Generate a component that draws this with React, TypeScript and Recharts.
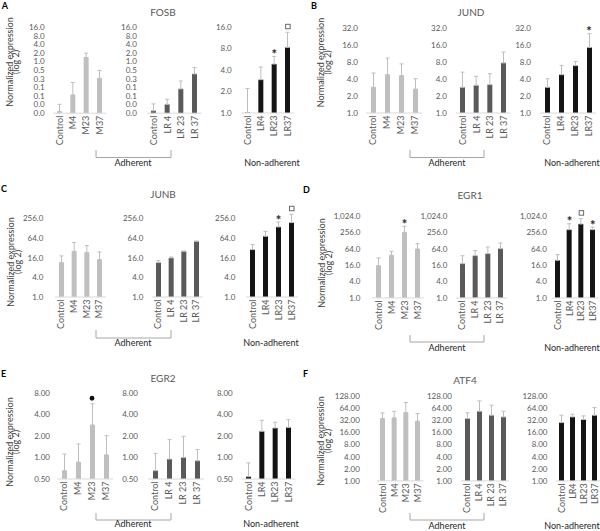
import React from 'react';
import { ComposedChart, Bar, Line, XAxis, YAxis, ErrorBar } from 'recharts';

// ---------- categories ----------
const CAT_ADH_M = ['Control', 'M4', 'M23', 'M37'];
const CAT_ADH_LR = ['Control', 'LR 4', 'LR 23', 'LR 37'];
const CAT_NON = ['Control', 'LR4', 'LR23', 'LR37'];

// ---------- FOSB ----------
const FOSB_M = [0.018, 0.068, 1.39, 0.26];
const FOSB_M_ERR = [0.014, 0.118, 0.58, 0.23];
const FOSB_LR = [0.019, 0.032, 0.111, 0.37];
const FOSB_LR_ERR = [0.014, 0.016, 0.099, 0.25];
const FOSB_NON = [1.02, 2.93, 4.85, 8.3];
const FOSB_NON_ERR = [1.18, 1.47, 1.35, 5.2];
const FOSB_NON_MARKS = ['', '', '*', '□'];
const FOSB_ADH_TICKS = [1 / 64, 1 / 32, 1 / 16, 1 / 8, 1 / 4, 1 / 2, 1, 2, 4, 8, 16];
const FOSB_ADH_TICK_LABELS = ['0.0', '0.0', '0.1', '0.1', '0.3', '0.5', '1.0', '2.0', '4.0', '8.0', '16.0'];
const FOSB_NON_TICKS = [1, 2, 4, 8, 16];
const FOSB_NON_TICK_LABELS = ['1.0', '2.0', '4.0', '8.0', '16.0'];

// ---------- JUND ----------
const JUND_M = [2.85, 4.77, 4.6, 2.66];
const JUND_M_ERR = [2.25, 4.63, 2.8, 1.39];
const JUND_LR = [2.85, 3.1, 3.18, 7.7];
const JUND_LR_ERR = [2.45, 1.36, 1.79, 4.3];
const JUND_NON = [2.85, 4.77, 6.9, 14.5];
const JUND_NON_ERR = [1.2, 2.2, 1.3, 10.9];
const JUND_NON_MARKS = ['', '', '', '*'];
const JUND_TICKS = [1, 2, 4, 8, 16, 32];
const JUND_TICK_LABELS = ['1.0', '2.0', '4.0', '8.0', '16.0', '32.0'];

// ---------- JUNB ----------
const JUNB_M = [11.4, 25.4, 23.1, 14.1];
const JUNB_M_ERR = [6.9, 21.6, 14.7, 10.1];
const JUNB_LR = [11.4, 15.9, 25.4, 51.6];
const JUNB_LR_ERR = [1.7, 1.1, 0.6, 0.9];
const JUNB_NON = [28.6, 73.5, 142, 193];
const JUNB_NON_ERR = [12.2, 30.5, 60, 155];
const JUNB_NON_MARKS = ['', '', '*', '□'];
const JUNB_TICKS = [1, 4, 16, 64, 256];
const JUNB_TICK_LABELS = ['1.0', '4.0', '16.0', '64.0', '256.0'];

// ---------- EGR1 ----------
const EGR1_M = [15.5, 37.3, 263, 64];
const EGR1_M_ERR = [14.3, 15.1, 176, 36];
const EGR1_M_MARKS = ['', '', '*', ''];
const EGR1_LR = [18.4, 36.3, 43, 65.8];
const EGR1_LR_ERR = [17.6, 19.4, 32.6, 40.2];
const EGR1_NON = [24.5, 330, 534, 330];
const EGR1_NON_ERR = [15.1, 219, 304, 83];
const EGR1_NON_MARKS = ['', '*', '□', '*'];
const EGR1_TICKS = [1, 4, 16, 64, 256, 1024];
const EGR1_TICK_LABELS = ['1.0', '4.0', '16.0', '64.0', '256.0', '1,024.0'];

// ---------- EGR2 ----------
const EGR2_M = [0.655, 0.86, 2.85, 1.09];
const EGR2_M_ERR = [0.465, 0.69, 2.81, 0.93];
const EGR2_M_MARKS = ['', '', '●', ''];
const EGR2_LR = [0.655, 0.95, 1.0, 0.9];
const EGR2_LR_ERR = [0.485, 0.83, 0.98, 0.39];
const EGR2_NON = [0.54, 2.33, 2.59, 2.64];
const EGR2_NON_ERR = [0.3, 0.99, 0.52, 0.75];
const EGR2_TICKS = [0.5, 1, 2, 4, 8];
const EGR2_TICK_LABELS = ['0.50', '1.00', '2.00', '4.00', '8.00'];

// ---------- ATF4 ----------
const ATF4_M = [35.6, 37, 50, 30.5];
const ATF4_M_ERR = [13.4, 17, 39, 17];
const ATF4_LR = [35.6, 54, 43, 39];
const ATF4_LR_ERR = [13.9, 44, 33.5, 15];
const ATF4_NON = [28.2, 39, 33.6, 43];
const ATF4_NON_ERR = [14.8, 6.6, 7.8, 23.7];
const ATF4_TICKS = [1, 2, 4, 8, 16, 32, 64, 128];
const ATF4_TICK_LABELS = ['1.00', '2.00', '4.00', '8.00', '16.00', '32.00', '64.00', '128.00'];

// ---------- styles ----------
const FONT = "Lato, 'Liberation Sans', sans-serif";
const C_M = '#bfbfbf';
const C_LR = '#595959';
const C_NON = '#141414';
const ERR_COLOR = '#bfbfbf';
const TICK_COLOR = '#595959';

type Sub = {
  cats: string[];
  values: number[];
  errors: number[];
  marks?: string[];
  ticks: number[];
  tickLabels: string[];
  color: string;
  firstX: number;
  lastX: number;
  labelRight: number;
};

type Panel = {
  letter: string;
  letterPos: [number, number];
  title: string;
  titlePos: [number, number];
  topY: number;
  baseY: number;
  yLabel: [number, number, number];
  bracket: [number, number, number, number];
  adhPos: [number, number];
  nonPos: [number, number];
  subs: Sub[];
};

const PANELS: Panel[] = [
  {
    letter: 'A', letterPos: [5, 6], title: 'FOSB', titlePos: [163, 12],
    topY: 27.3, baseY: 113.3, yLabel: [9.5, 16, 62],
    bracket: [96, 171, 150, 157.5], adhPos: [133, 163], nonPos: [272, 163],
    subs: [
      { cats: CAT_ADH_M, values: FOSB_M, errors: FOSB_M_ERR, ticks: FOSB_ADH_TICKS, tickLabels: FOSB_ADH_TICK_LABELS, color: C_M, firstX: 60, lastX: 100, labelRight: 45 },
      { cats: CAT_ADH_LR, values: FOSB_LR, errors: FOSB_LR_ERR, ticks: FOSB_ADH_TICKS, tickLabels: FOSB_ADH_TICK_LABELS, color: C_LR, firstX: 154, lastX: 195, labelRight: 137 },
      { cats: CAT_NON, values: FOSB_NON, errors: FOSB_NON_ERR, marks: FOSB_NON_MARKS, ticks: FOSB_NON_TICKS, tickLabels: FOSB_NON_TICK_LABELS, color: C_NON, firstX: 248, lastX: 288, labelRight: 232 },
    ],
  },
  {
    letter: 'B', letterPos: [314, 6], title: 'JUND', titlePos: [471, 12],
    topY: 28.3, baseY: 113.3, yLabel: [321, 327.5, 62.5],
    bracket: [410, 484, 150, 157.5], adhPos: [447, 163], nonPos: [572, 163],
    subs: [
      { cats: CAT_ADH_M, values: JUND_M, errors: JUND_M_ERR, ticks: JUND_TICKS, tickLabels: JUND_TICK_LABELS, color: C_M, firstX: 373, lastX: 415, labelRight: 358 },
      { cats: CAT_ADH_LR, values: JUND_LR, errors: JUND_LR_ERR, ticks: JUND_TICKS, tickLabels: JUND_TICK_LABELS, color: C_LR, firstX: 463, lastX: 504, labelRight: 447 },
      { cats: CAT_NON, values: JUND_NON, errors: JUND_NON_ERR, marks: JUND_NON_MARKS, ticks: JUND_TICKS, tickLabels: JUND_TICK_LABELS, color: C_NON, firstX: 547, lastX: 589, labelRight: 531 },
    ],
  },
  {
    letter: 'C', letterPos: [4, 189], title: 'JUNB', titlePos: [163, 194],
    topY: 218.3, baseY: 296.7, yLabel: [11, 17.5, 262],
    bracket: [96, 171, 330, 338], adhPos: [133, 343], nonPos: [271, 343],
    subs: [
      { cats: CAT_ADH_M, values: JUNB_M, errors: JUNB_M_ERR, ticks: JUNB_TICKS, tickLabels: JUNB_TICK_LABELS, color: C_M, firstX: 61, lastX: 99, labelRight: 43 },
      { cats: CAT_ADH_LR, values: JUNB_LR, errors: JUNB_LR_ERR, ticks: JUNB_TICKS, tickLabels: JUNB_TICK_LABELS, color: C_LR, firstX: 158, lastX: 196, labelRight: 143 },
      { cats: CAT_NON, values: JUNB_NON, errors: JUNB_NON_ERR, marks: JUNB_NON_MARKS, ticks: JUNB_TICKS, tickLabels: JUNB_TICK_LABELS, color: C_NON, firstX: 252, lastX: 291, labelRight: 235 },
    ],
  },
  {
    letter: 'D', letterPos: [306.5, 190], title: 'EGR1', titlePos: [470, 195.7],
    topY: 216.7, baseY: 298.3, yLabel: [321.5, 328.5, 263],
    bracket: [410, 484, 335, 342], adhPos: [447, 348], nonPos: [572, 348],
    subs: [
      { cats: CAT_ADH_M, values: EGR1_M, errors: EGR1_M_ERR, marks: EGR1_M_MARKS, ticks: EGR1_TICKS, tickLabels: EGR1_TICK_LABELS, color: C_M, firstX: 378, lastX: 417, labelRight: 360 },
      { cats: CAT_ADH_LR, values: EGR1_LR, errors: EGR1_LR_ERR, ticks: EGR1_TICKS, tickLabels: EGR1_TICK_LABELS, color: C_LR, firstX: 462, lastX: 500, labelRight: 447 },
      { cats: CAT_NON, values: EGR1_NON, errors: EGR1_NON_ERR, marks: EGR1_NON_MARKS, ticks: EGR1_TICKS, tickLabels: EGR1_TICK_LABELS, color: C_NON, firstX: 558, lastX: 593, labelRight: 547 },
    ],
  },
  {
    letter: 'E', letterPos: [3.5, 373.5], title: 'EGR2', titlePos: [163, 378],
    topY: 393.3, baseY: 479.3, yLabel: [9.5, 16, 442],
    bracket: [96, 171, 513, 520], adhPos: [133, 524], nonPos: [271, 524],
    subs: [
      { cats: CAT_ADH_M, values: EGR2_M, errors: EGR2_M_ERR, marks: EGR2_M_MARKS, ticks: EGR2_TICKS, tickLabels: EGR2_TICK_LABELS, color: C_M, firstX: 64, lastX: 106, labelRight: 50 },
      { cats: CAT_ADH_LR, values: EGR2_LR, errors: EGR2_LR_ERR, ticks: EGR2_TICKS, tickLabels: EGR2_TICK_LABELS, color: C_LR, firstX: 155, lastX: 197, labelRight: 138 },
      { cats: CAT_NON, values: EGR2_NON, errors: EGR2_NON_ERR, ticks: EGR2_TICKS, tickLabels: EGR2_TICK_LABELS, color: C_NON, firstX: 249, lastX: 289, labelRight: 233 },
    ],
  },
  {
    letter: 'F', letterPos: [305.5, 374], title: 'ATF4', titlePos: [465, 380.7],
    topY: 396, baseY: 480.7, yLabel: [321, 327.5, 441],
    bracket: [410, 484, 513, 520], adhPos: [447, 526], nonPos: [572, 526],
    subs: [
      { cats: CAT_ADH_M, values: ATF4_M, errors: ATF4_M_ERR, ticks: ATF4_TICKS, tickLabels: ATF4_TICK_LABELS, color: C_M, firstX: 383, lastX: 418, labelRight: 360 },
      { cats: CAT_ADH_LR, values: ATF4_LR, errors: ATF4_LR_ERR, ticks: ATF4_TICKS, tickLabels: ATF4_TICK_LABELS, color: C_LR, firstX: 467, lastX: 503, labelRight: 452 },
      { cats: CAT_NON, values: ATF4_NON, errors: ATF4_NON_ERR, ticks: ATF4_TICKS, tickLabels: ATF4_TICK_LABELS, color: C_NON, firstX: 561, lastX: 594, labelRight: 547 },
    ],
  },
];

const CatTick = (props: any) => {
  const { x, y, payload } = props;
  const ty = y + 2.5;
  return (
    <text
      x={x}
      y={ty}
      transform={`rotate(-90 ${x} ${ty})`}
      textAnchor="end"
      dy="0.35em"
      fill={TICK_COLOR}
      fontSize={9}
      fontFamily={FONT}
    >
      {payload.value}
    </text>
  );
};

const renderMark = (props: any) => {
  const { cx, cy, payload, index } = props;
  const key = `mk-${index}`;
  if (!payload || !payload.mark || cy == null || Number.isNaN(cy)) return <g key={key} />;
  const y = cy - 5.5;
  if (payload.mark === '*') {
    return (
      <text key={key} x={cx} y={y} textAnchor="middle" dy="0.62em" fontSize={13} fontWeight="bold" fill="#262626" fontFamily={FONT}>
        *
      </text>
    );
  }
  if (payload.mark === '□') {
    return <rect key={key} x={cx - 2} y={y - 2.5} width={4.5} height={4.5} fill="#fff" stroke="#595959" strokeWidth={0.9} />;
  }
  return <circle key={key} cx={cx} cy={y} r={2.4} fill="#111" />;
};

const HEAD_UNITS = 2;
const Y_AXIS_W = 50;
const X_AXIS_H = 45;
const MARGIN_TOP = 2;

function SubChart({ sub, topY, baseY }: { sub: Sub; topY: number; baseY: number }) {
  const lo = sub.ticks[0];
  const hi = sub.ticks[sub.ticks.length - 1];
  const units = Math.log2(hi / lo);
  const ppu = (baseY - topY) / units;
  const domainMax = hi * Math.pow(2, HEAD_UNITS);
  const plotTop = topY - HEAD_UNITS * ppu;
  const plotH = baseY - plotTop;
  const plotW = ((sub.lastX - sub.firstX) * 4) / 3;
  const plotLeft = sub.firstX - plotW / 8;
  const width = Y_AXIS_W + plotW + 2;
  const height = MARGIN_TOP + plotH + X_AXIS_H;
  const data = sub.cats.map((c, i) => ({
    cat: c,
    value: sub.values[i],
    err: [0, sub.errors[i]],
    mark: sub.marks ? sub.marks[i] : '',
    markY: sub.marks && sub.marks[i] ? sub.values[i] + sub.errors[i] : null,
  }));
  return (
    <div style={{ position: 'absolute', left: plotLeft - Y_AXIS_W, top: plotTop - MARGIN_TOP }}>
      <ComposedChart width={width} height={height} data={data} margin={{ top: MARGIN_TOP, right: 2, bottom: 0, left: 0 }}>
        <XAxis
          dataKey="cat"
          height={X_AXIS_H}
          interval={0}
          tick={<CatTick />}
          tickLine={false}
          tickSize={0}
          tickMargin={0}
          axisLine={{ stroke: '#d9d9d9' }}
        />
        <YAxis
          scale="log"
          type="number"
          domain={[lo, domainMax]}
          ticks={sub.ticks}
          width={Y_AXIS_W}
          axisLine={false}
          tickLine={false}
          tickSize={0}
          tickMargin={plotLeft - sub.labelRight}
          tickFormatter={(v: number) => {
            const i = sub.ticks.indexOf(v);
            return i >= 0 ? sub.tickLabels[i] : '';
          }}
          tick={{ fill: TICK_COLOR, fontSize: 8, fontFamily: FONT }}
          interval={0}
        />
        <Bar dataKey="value" fill={sub.color} barSize={5} isAnimationActive={false}>
          <ErrorBar dataKey="err" width={2} stroke={ERR_COLOR} strokeWidth={1} direction="y" />
        </Bar>
        <Line dataKey="markY" stroke="none" dot={renderMark} activeDot={false} isAnimationActive={false} legendType="none" />
      </ComposedChart>
    </div>
  );
}

function Overlay() {
  return (
    <svg width={600} height={531} style={{ position: 'absolute', left: 0, top: 0, pointerEvents: 'none' }}>
      {PANELS.map((p) => (
        <g key={p.letter} fontFamily={FONT}>
          <text x={p.letterPos[0]} y={p.letterPos[1]} dy="0.35em" textAnchor="middle" fontSize={9} fontWeight="bold" fill="#000">
            {p.letter}
          </text>
          <text x={p.titlePos[0]} y={p.titlePos[1]} dy="0.35em" textAnchor="middle" fontSize={10} fill={TICK_COLOR}>
            {p.title}
          </text>
          <text
            x={p.yLabel[0]}
            y={p.yLabel[2]}
            transform={`rotate(-90 ${p.yLabel[0]} ${p.yLabel[2]})`}
            dy="0.35em"
            textAnchor="middle"
            fontSize={9}
            fill="#404040"
          >
            Normalized expression
          </text>
          <text
            x={p.yLabel[1]}
            y={p.yLabel[2]}
            transform={`rotate(-90 ${p.yLabel[1]} ${p.yLabel[2]})`}
            dy="0.35em"
            textAnchor="middle"
            fontSize={9}
            fill="#404040"
          >
            (log 2)
          </text>
          <path
            d={`M${p.bracket[0]},${p.bracket[2]} L${p.bracket[0]},${p.bracket[3]} L${p.bracket[1]},${p.bracket[3]} L${p.bracket[1]},${p.bracket[2]}`}
            fill="none"
            stroke="#a6a6a6"
            strokeWidth={1}
          />
          <text x={p.adhPos[0]} y={p.adhPos[1]} dy="0.35em" textAnchor="middle" fontSize={9} fill="#262626">
            Adherent
          </text>
          <text x={p.nonPos[0]} y={p.nonPos[1]} dy="0.35em" textAnchor="middle" fontSize={9} fill="#262626">
            Non-adherent
          </text>
        </g>
      ))}
    </svg>
  );
}

export default function App() {
  return (
    <div style={{ position: 'absolute', left: 0, top: 0, width: 600, height: 531, background: '#fff', overflow: 'hidden' }}>
      {PANELS.map((p) =>
        p.subs.map((s, i) => <SubChart key={`${p.letter}-${i}`} sub={s} topY={p.topY} baseY={p.baseY} />)
      )}
      <Overlay />
    </div>
  );
}
